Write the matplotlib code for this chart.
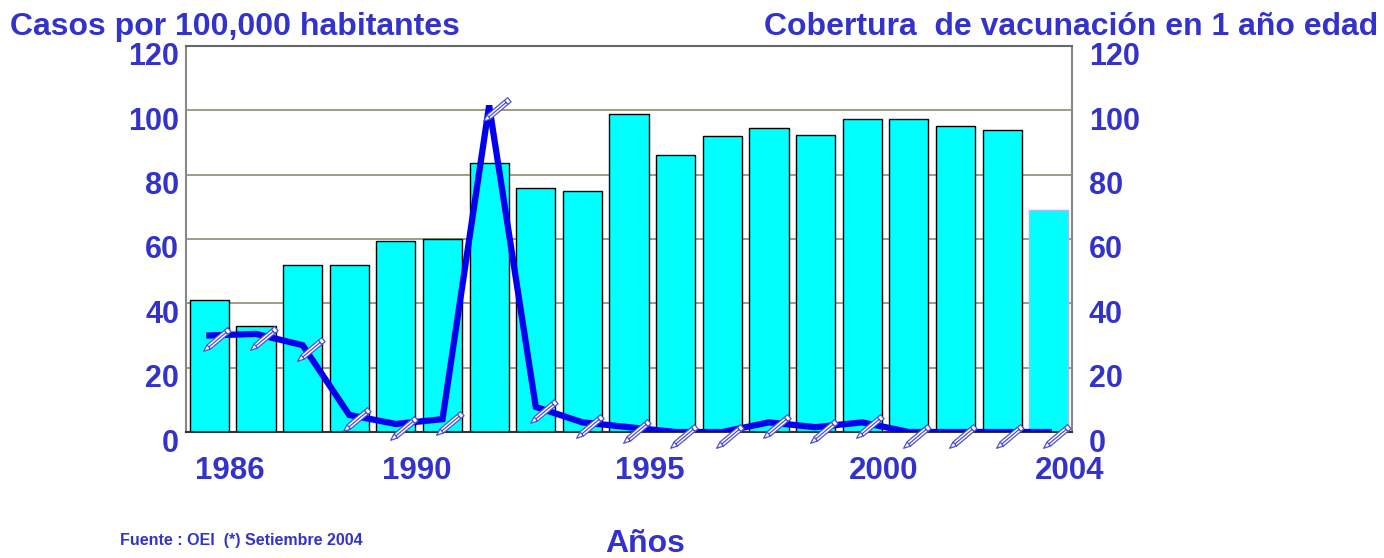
#!/usr/bin/env python3
"""Casos por 100,000 habitantes vs cobertura de vacunación, 1986-2004."""

import matplotlib

matplotlib.use("Agg")
import matplotlib.pyplot as plt
import numpy as np
from matplotlib.path import Path
from matplotlib.transforms import Affine2D, ScaledTranslation

plt.rcParams["font.family"] = ["Liberation Sans", "DejaVu Sans"]
plt.rcParams["font.weight"] = "bold"

TXT = "#3333CC"

years = list(range(1986, 2005))
coverage = [41, 33, 52, 52, 59.5, 60, 83.5, 76, 75, 99, 86, 92, 94.5, 92.3,
            97.3, 97.3, 95, 94, 69]
cases = [30, 30.5, 27, 5.3, 2.5, 4, 101.5, 7.8, 3, 1.5, 0, 0, 3, 1.5, 3,
         0, 0, 0, 0]
year_ticks = [1986, 1990, 1995, 2000, 2004]
y_ticks = [0, 20, 40, 60, 80, 100, 120]


def pencil_marker():
    # thin pencil along the u axis: tip at u=-1, eraser at u=+1
    verts = [(-1.0, 0.0), (-0.6, -0.16), (1.0, -0.16), (1.0, 0.16),
             (-0.6, 0.16), (-1.0, 0.0),
             (-0.6, -0.16), (-0.6, 0.16),
             (0.75, -0.16), (0.75, 0.16),
             (-0.6, 0.0), (0.75, 0.0)]
    codes = [Path.MOVETO, Path.LINETO, Path.LINETO, Path.LINETO,
             Path.LINETO, Path.CLOSEPOLY,
             Path.MOVETO, Path.LINETO,
             Path.MOVETO, Path.LINETO,
             Path.MOVETO, Path.LINETO]
    p = Path(verts, codes)
    return p.transformed(Affine2D().rotate_deg(40))


fig = plt.figure(figsize=(13.84, 5.58), dpi=100)
ax = fig.add_axes([0.1344, 0.2258, 0.6402, 0.6918])

x = np.arange(len(years))
edges = ["black"] * (len(years) - 1) + ["#99BBFF"]
ax.bar(x, coverage, width=0.84, color="#00FFFF", edgecolor=edges,
       linewidth=1.0, zorder=2)

ax.plot(x, cases, color="#0000EE", linewidth=4.5, solid_joinstyle="miter",
        zorder=4)
shift = ax.transData + ScaledTranslation(0.07, -0.05, fig.dpi_scale_trans)
ax.plot(x, cases, linestyle="none", marker=pencil_marker(), markersize=21,
        markerfacecolor="white", markeredgecolor="#5050D0",
        markeredgewidth=0.9, transform=shift, zorder=5, clip_on=False)

ax.set_xlim(-0.5, len(years) - 0.5)
ax.set_ylim(0, 120)
ax.set_yticks(y_ticks)
ax.yaxis.grid(True, color="#8C8C6E", linewidth=1.2, zorder=0)
ax.set_axisbelow(True)

ax.set_xticks([years.index(y) + 0.45 for y in year_ticks])
ax.set_xticklabels([str(y) for y in year_ticks])
ax.tick_params(axis="x", length=0, pad=17, labelsize=22.5, labelcolor=TXT)
ax.tick_params(axis="y", length=0, pad=5, labelsize=22, labelcolor=TXT,
               labelright=True, right=False)

down = ScaledTranslation(0, -0.08, fig.dpi_scale_trans)
down_right = ScaledTranslation(0.1, -0.08, fig.dpi_scale_trans)
for t in ax.yaxis.get_major_ticks():
    t.label1.set_transform(t.label1.get_transform() + down)
    t.label2.set_transform(t.label2.get_transform() + down_right)

for side in ["left", "right"]:
    ax.spines[side].set_color("#888888")
    ax.spines[side].set_linewidth(1.5)
ax.spines["bottom"].set_color("#333333")
ax.spines["bottom"].set_linewidth(1.5)
ax.spines["top"].set_color("#666666")
ax.spines["top"].set_linewidth(1.5)

fig.text(10 / 1384, 1 - 27 / 558, "Casos por 100,000 habitantes",
         color=TXT, fontsize=23, ha="left", va="center")
fig.text(1378 / 1384, 1 - 27 / 558, "Cobertura  de vacunación en 1 año edad",
         color=TXT, fontsize=23, ha="right", va="center")
fig.text(120 / 1384, 1 - 541 / 558, "Fuente : OEI  (*) Setiembre 2004",
         color=TXT, fontsize=11.5, ha="left", va="center")
fig.text(645 / 1384, 1 - 544 / 558, "Años", color=TXT, fontsize=23,
         ha="center", va="center")

fig.savefig("out.png", dpi=100)
